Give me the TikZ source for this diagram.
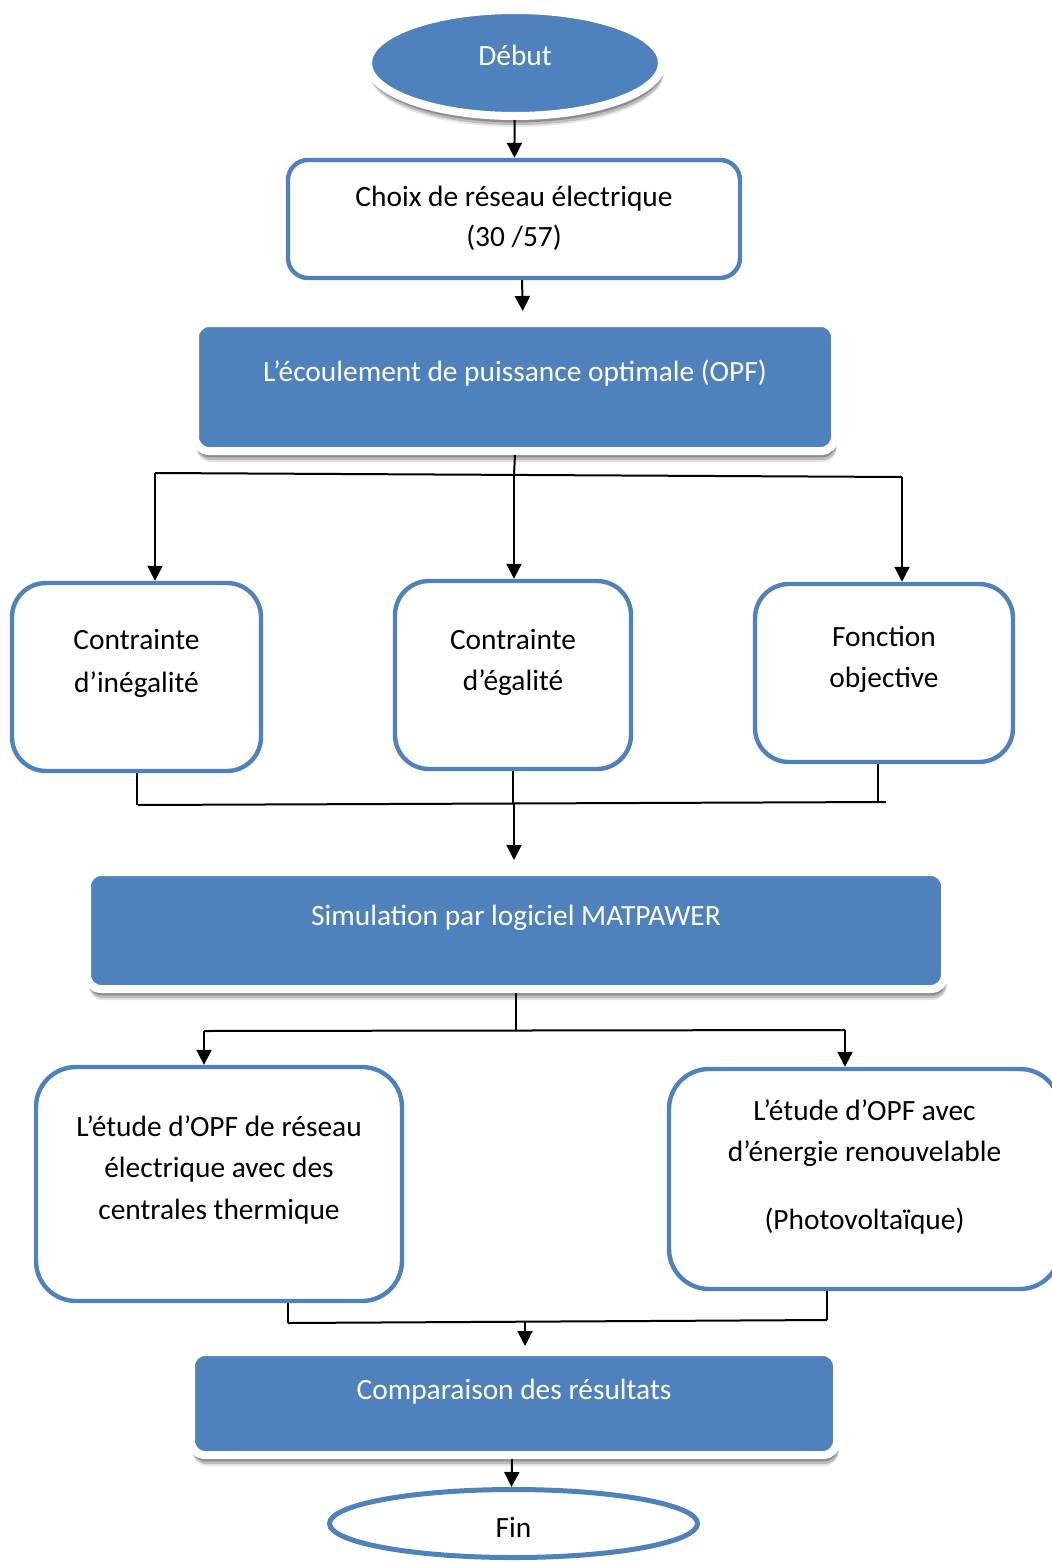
\documentclass[tikz,border=0pt]{standalone}
\usepackage{fontspec}
\setmainfont{Carlito}
\usetikzlibrary{shapes.geometric,shadows,arrows.meta}
\definecolor{accent}{HTML}{4F81BD}
% text block of fixed size: width, height, top gap, line spacing, text
\newcommand{\boxtxt}[5]{\parbox[c][#2][t]{#1}{\centering\setlength{\baselineskip}{#4}\vspace*{#3}\rule{0pt}{12pt}#5\par}}
\tikzset{
  x=0.5pt, y=-0.5pt,
  basefont/.style={font=\fontsize{14.7pt}{20pt}\selectfont},
  softshadow/.style={
    drop shadow={shadow xshift=0.8pt, shadow yshift=-5.5pt, opacity=.10, fill=black},
    drop shadow={shadow xshift=0.8pt, shadow yshift=-4.5pt, opacity=.18, fill=black},
    drop shadow={shadow xshift=0.5pt, shadow yshift=-3.2pt, opacity=.25, fill=black}},
  outbox/.style={basefont, draw=accent, line width=2.2pt, fill=white, inner sep=0pt},
  solidbox/.style={basefont, softshadow, draw=white, line width=4pt, fill=accent,
    text=white, inner sep=0pt, rounded corners=7pt},
  terminal/.style={basefont, ellipse, inner sep=0pt},
  link/.style={line width=1pt},
  arr/.style={link, -{Triangle[length=7.5pt,width=7.5pt]}},
}
\begin{document}
\begin{tikzpicture}
\useasboundingbox (0,0) rectangle (1052,1562);

% start and end
\node[terminal, softshadow, fill=accent, draw=white, line width=4pt, text=white,
  minimum width=147pt, minimum height=53pt, text height=9pt, text depth=6pt]
  (debut) at (515,63) {Début};
\node[terminal, fill=white, draw=accent, line width=2.5pt,
  minimum width=184pt, minimum height=34pt, text height=13.5pt, text depth=0pt]
  (fin) at (513.5,1523.5) {Fin};

% steps
\node[outbox, rounded corners=10pt] (choix) at (514,219)
  {\boxtxt{226pt}{59pt}{11.5pt}{20pt}{Choix de réseau électrique\\(30 /57)}};
\node[solidbox] (opf) at (515,387)
  {\boxtxt{320pt}{64pt}{17pt}{20pt}{L’écoulement de puissance optimale (OPF)}};

\node[outbox, rounded corners=17pt] (ineg) at (136.5,677)
  {\boxtxt{124.5pt}{94pt}{21pt}{21.5pt}{Contrainte\\d’inégalité}};
\node[outbox, rounded corners=17pt] (egal) at (513,675)
  {\boxtxt{118pt}{94pt}{22pt}{20.5pt}{Contrainte\\d’égalité}};
\node[outbox, rounded corners=17pt] (fonc) at (884,673)
  {\boxtxt{129pt}{89pt}{19pt}{20.5pt}{Fonction\\objective}};

\node[solidbox] (sim) at (516,930.5)
  {\boxtxt{429pt}{58.5pt}{14.5pt}{20pt}{Simulation par logiciel MATPAWER}};

\node[outbox, rounded corners=20pt] (etudeA) at (219,1184)
  {\boxtxt{183pt}{117pt}{22.5pt}{20.75pt}{L’étude d’OPF de réseau\\électrique avec des\\centrales thermique}};
\node[outbox, rounded corners=20pt] (etudeB) at (864.5,1179)
  {\boxtxt{195.5pt}{110pt}{13.5pt}{20.5pt}{L’étude d’OPF avec\\d’énergie renouvelable\\[13.5pt](Photovoltaïque)}};

\node[solidbox] (comp) at (514,1403.5)
  {\boxtxt{323pt}{51.5pt}{11.5pt}{20pt}{Comparaison des résultats}};

% junction points
\coordinate (j1L) at (155,473);
\coordinate (j1M) at (514,475);
\coordinate (j1R) at (902,477);
\coordinate (j2L) at (138,805);
\coordinate (j2M) at (514,804);
\coordinate (j2R) at (886,802);
\coordinate (j2F) at (878,802);
\coordinate (j3L) at (204,1031);
\coordinate (j3M) at (516,1030);
\coordinate (j3R) at (845,1030);
\coordinate (j4L) at (288,1323);
\coordinate (j4M) at (525,1322);
\coordinate (j4R) at (827,1320);

% connectors
\draw[arr] (debut) -- (choix);
\draw[arr, shorten >=4pt] ([xshift=4pt]choix.south) -- ([xshift=4pt]opf.north);

\draw[link] (opf.south) -- (j1M);
\draw[link] (j1L) -- (j1R);
\draw[arr] (j1L) -- (j1L |- ineg.north);
\draw[arr] (j1M) -- (j1M |- egal.north);
\draw[arr] (j1R) -- (j1R |- fonc.north);

\draw[link] (ineg.south) -- (ineg.south |- j2L);
\draw[link] (egal.south) -- (egal.south |- j2M);
\draw[link] (fonc.south -| j2F) -- (j2F);
\draw[link] (j2L) -- (j2R);
\draw[arr, shorten >=4pt] (j2M) -- (j2M |- sim.north);

\draw[link] (sim.south) -- (j3M);
\draw[link] (j3L) -- (j3R);
\draw[arr] (j3L) -- (j3L |- etudeA.north);
\draw[arr] (j3R) -- (j3R |- etudeB.north);

\draw[link] (etudeA.south -| j4L) -- (j4L);
\draw[link] (etudeB.south -| j4R) -- (j4R);
\draw[link] (j4L) -- (j4R);
\draw[arr, shorten >=1pt] (j4M) -- (j4M |- comp.north);

\draw[arr] ([xshift=-1pt]comp.south) -- ([xshift=-1pt]fin.north);
\end{tikzpicture}
\end{document}
